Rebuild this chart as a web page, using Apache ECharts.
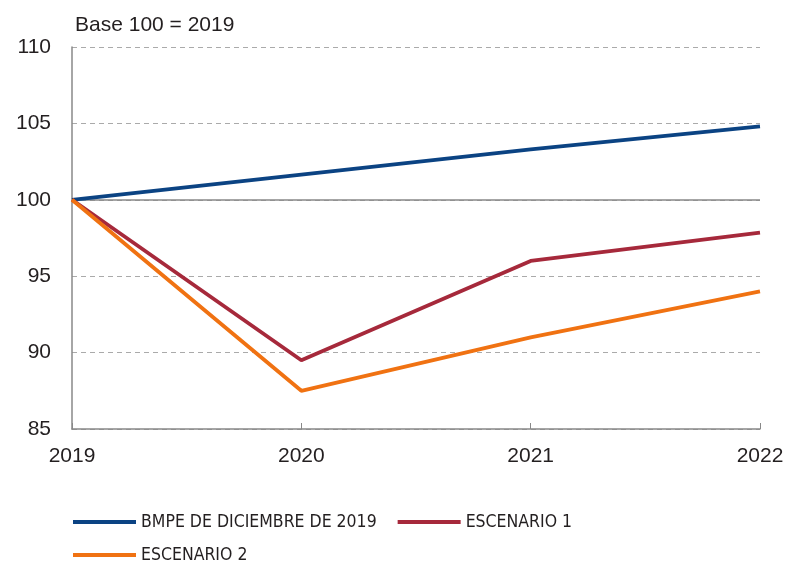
<!DOCTYPE html>
<html>
<head>
<meta charset="utf-8">
<script src="https://cdn.jsdelivr.net/npm/echarts@6/dist/echarts.min.js"></script>
<style>
  html, body { margin: 0; padding: 0; background: #fff; }
  #chart { width: 787px; height: 563px; }
</style>
</head>
<body>
<div id="chart"></div>
<script>
const years = ["2019", "2020", "2021", "2022"];
const bmpe = [100, 101.65, 103.3, 104.8];
const escenario1 = [100, 89.5, 96.0, 97.85];
const escenario2 = [100, 87.5, 91.0, 94.0];
const seriesNames = ["BMPE DE DICIEMBRE DE 2019", "ESCENARIO 1", "ESCENARIO 2"];
const seriesColors = ["#0b4383", "#a6293b", "#f07212"];

const chart = echarts.init(document.getElementById("chart"));
const font = "Helvetica, 'Liberation Sans', Arial, sans-serif";
const narrow = "'Liberation Sans Narrow', 'DejaVu Sans Condensed', sans-serif";

const mkSeries = (name, data, color, extra) => ({
  name: name,
  type: "line",
  data: data,
  symbol: "none",
  lineStyle: { width: 3.8, color: color },
  itemStyle: { color: color },
  z: 3,
  ...extra,
});

const option = {
  animation: false,
  textStyle: { fontFamily: font },
  grid: { left: 72, right: 27, top: 47, bottom: 134 },
  title: {
    text: "Base 100 = 2019",
    left: 70,
    top: 10,
    textStyle: { fontSize: 21, fontWeight: "normal", color: "#231f20", fontFamily: font },
  },
  legend: [
    {
      left: 68,
      top: 508,
      itemWidth: 63,
      itemHeight: 4,
      itemGap: 21,
      icon: "rect",
      data: [seriesNames[0], seriesNames[1]],
      textStyle: { fontSize: 17.5, color: "#231f20", fontFamily: narrow },
    },
    {
      left: 68,
      top: 541,
      itemWidth: 63,
      itemHeight: 4,
      icon: "rect",
      data: [seriesNames[2]],
      textStyle: { fontSize: 17.5, color: "#231f20", fontFamily: narrow },
    },
  ],
  xAxis: {
    type: "category",
    data: years,
    boundaryGap: false,
    axisLine: { lineStyle: { color: "#888", width: 1.5 } },
    axisTick: { inside: true, length: 6, lineStyle: { color: "#888" } },
    axisLabel: { fontSize: 21, color: "#231f20", margin: 17 },
  },
  yAxis: {
    type: "value",
    min: 85,
    max: 110,
    interval: 5,
    axisLine: { show: true, lineStyle: { color: "#888", width: 1.5 } },
    axisTick: { show: false },
    axisLabel: { fontSize: 21, color: "#231f20", margin: 21 },
    splitLine: { lineStyle: { color: "#aaa", type: [5, 4], width: 1 } },
  },
  series: [
    mkSeries(seriesNames[0], bmpe, seriesColors[0], {
      markLine: {
        silent: true,
        symbol: "none",
        label: { show: false },
        lineStyle: { color: "#888", type: "solid", width: 1.5 },
        data: [{ yAxis: 100 }],
        z: 2,
      },
    }),
    mkSeries(seriesNames[1], escenario1, seriesColors[1]),
    mkSeries(seriesNames[2], escenario2, seriesColors[2]),
  ],
};

chart.setOption(option);
</script>
</body>
</html>
